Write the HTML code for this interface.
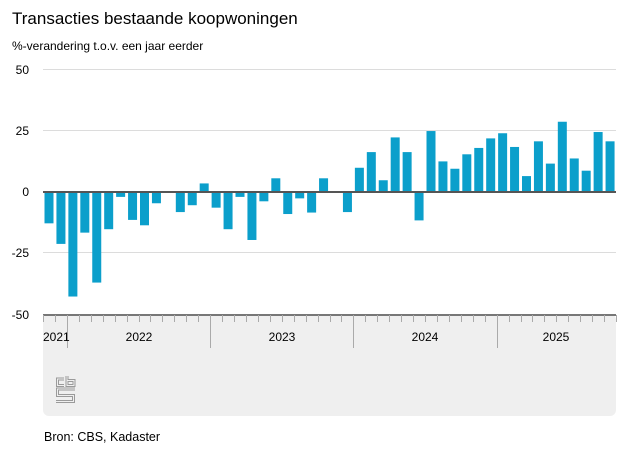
<!DOCTYPE html>
<html><head><meta charset="utf-8"><style>
body{margin:0;background:#fff;font-family:"Liberation Sans",Arial,sans-serif;}
</style></head><body>
<svg width="627" height="470" xmlns="http://www.w3.org/2000/svg" font-family="Liberation Sans, Arial, sans-serif">
<text x="12" y="24" font-size="17" fill="#000">Transacties bestaande koopwoningen</text>
<text x="12" y="50" font-size="12" fill="#000">%-verandering t.o.v. een jaar eerder</text>
<g stroke="#dcdcdc" stroke-width="1">
<line x1="43" x2="616" y1="69.5" y2="69.5"/>
<line x1="43" x2="616" y1="130.5" y2="130.5"/>
<line x1="43" x2="616" y1="252.5" y2="252.5"/>
</g>
<g font-size="12" fill="#000" text-anchor="end">
<text x="29" y="74">50</text>
<text x="29" y="135">25</text>
<text x="29" y="196">0</text>
<text x="29" y="257">-25</text>
<text x="29" y="319">-50</text>
</g>
<rect x="43" y="314" width="573" height="102" rx="6" fill="#efefef"/>
<g id="bars" fill="#0b9fcb"></g>
<line x1="43" x2="616" y1="192" y2="192" stroke="#555" stroke-width="2"/>
<line x1="43" x2="616" y1="315" y2="315" stroke="#777" stroke-width="2"/>
<g id="ticks" stroke="#aaa" stroke-width="1"></g>
<g font-size="12" fill="#000">
<text x="43" y="341">2021</text>
<text x="139" y="341" text-anchor="middle">2022</text>
<text x="282" y="341" text-anchor="middle">2023</text>
<text x="425" y="341" text-anchor="middle">2024</text>
<text x="556" y="341" text-anchor="middle">2025</text>
</g>
<g fill="none" stroke-linejoin="miter">
<path d="M64 379H57.5V385.5H64 M67 376V385.5H74V380.5H67 M75 389H57.5V395.5H73.5V401.5H56" stroke="#9a9a9a" stroke-width="3"/>
<path d="M64 379H57.5V385.5H64 M67 376V385.5H74V380.5H67 M75 389H57.5V395.5H73.5V401.5H56" stroke="#efefef" stroke-width="1"/>
</g>
<text x="44" y="441" font-size="12.5" fill="#000">Bron: CBS, Kadaster</text>
<script>
var v=[-12.8,-21.2,-42.7,-16.6,-37,-15.2,-2,-11.4,-13.6,-4.6,0,-8.2,-5.4,3.5,-6.4,-15.2,-2,-19.6,-3.8,5.6,-9,-2.6,-8.4,5.6,0.3,-8.2,9.9,16.3,4.8,22.3,16.3,-11.6,24.9,12.5,9.5,15.4,18,21.9,24,18.4,6.5,20.7,11.6,28.7,13.7,8.7,24.5,20.7];
var ns="http://www.w3.org/2000/svg",b=document.getElementById("bars"),t=document.getElementById("ticks");
var p=573/48,s=61.2/25;
v.forEach(function(d,i){var r=document.createElementNS(ns,"rect");var x=43+p*i+1.5;r.setAttribute("x",x);r.setAttribute("width",9);var h=Math.abs(d)*s;r.setAttribute("y",d>=0?192-h:192);r.setAttribute("height",h);b.appendChild(r);});
for(var i=0;i<=48;i++){var l=document.createElementNS(ns,"line");var x=Math.round(43+p*i)+0.5;var big=(i%12==2);l.setAttribute("x1",x);l.setAttribute("x2",x);l.setAttribute("y1",315);l.setAttribute("y2",big?348:322);t.appendChild(l);}
</script>
</svg>
</body></html>
